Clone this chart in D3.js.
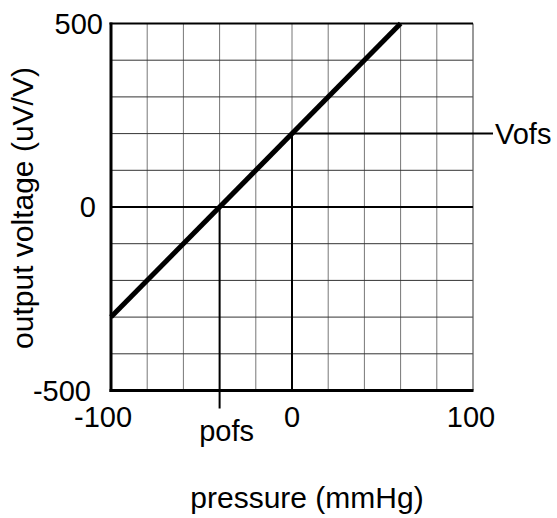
<!DOCTYPE html>
<html>
<head>
<meta charset="utf-8">
<script src="https://cdn.jsdelivr.net/npm/d3@7"></script>
<style>
  body { margin: 0; background: #fff; }
  text { font-family: "Liberation Sans", Arial, sans-serif; fill: #000; }
</style>
</head>
<body>
<svg id="chart" width="557" height="518"></svg>
<script>
// Data
const pressure = [-100, 60];          // mmHg
const voltage = [-300, 500];          // uV/V
const xTicks = [-100, 0, 100];
const yTicks = [-500, 0, 500];
const xGrid = [-80, -60, -40, -20, 0, 20, 40, 60, 80];
const yGrid = [-400, -300, -200, -100, 100, 200, 300, 400];
const pofs = -40;
const vofs = 200;

const svg = d3.select("#chart");
const m = { left: 111, top: 23.5, right: 473, bottom: 390.5 };
const x = d3.scaleLinear().domain([-100, 100]).range([m.left, m.right]);
const y = d3.scaleLinear().domain([-500, 500]).range([m.bottom, m.top]);

// Grid
svg.append("g").selectAll("line").data(xGrid).join("line")
  .attr("x1", d => x(d)).attr("x2", d => x(d))
  .attr("y1", y(500)).attr("y2", y(-500))
  .attr("stroke", "#777").attr("stroke-width", 1);
svg.append("g").selectAll("line").data(yGrid).join("line")
  .attr("x1", x(-100)).attr("x2", x(100))
  .attr("y1", d => y(d)).attr("y2", d => y(d))
  .attr("stroke", "#333").attr("stroke-width", 1);

// Right border (thin)
svg.append("line").attr("x1", x(100)).attr("x2", x(100))
  .attr("y1", y(500)).attr("y2", y(-500))
  .attr("stroke", "#555").attr("stroke-width", 1.2);
// Top border
svg.append("line").attr("x1", x(-100) - 1.5).attr("x2", x(100))
  .attr("y1", y(500)).attr("y2", y(500))
  .attr("stroke", "#000").attr("stroke-width", 2.2);

// Zero line
svg.append("line").attr("x1", x(-100)).attr("x2", x(100))
  .attr("y1", y(0)).attr("y2", y(0))
  .attr("stroke", "#000").attr("stroke-width", 2);

// Vofs line
svg.append("line").attr("x1", x(0)).attr("x2", x(100) + 20)
  .attr("y1", y(vofs)).attr("y2", y(vofs))
  .attr("stroke", "#000").attr("stroke-width", 2);
// x=0 vertical from Vofs to bottom
svg.append("line").attr("x1", x(0)).attr("x2", x(0))
  .attr("y1", y(vofs)).attr("y2", y(-500))
  .attr("stroke", "#000").attr("stroke-width", 2);
// pofs vertical from 0 to below axis
svg.append("line").attr("x1", x(pofs)).attr("x2", x(pofs))
  .attr("y1", y(0)).attr("y2", y(-500) + 18)
  .attr("stroke", "#000").attr("stroke-width", 2);

// Axes borders (thick)
svg.append("line").attr("x1", x(-100)).attr("x2", x(-100))
  .attr("y1", y(500) - 1).attr("y2", y(-500) + 1.5)
  .attr("stroke", "#000").attr("stroke-width", 3);
svg.append("line").attr("x1", x(-100) - 1.5).attr("x2", x(100) + 0.5)
  .attr("y1", y(-500)).attr("y2", y(-500))
  .attr("stroke", "#000").attr("stroke-width", 3);

// Data line
const line = d3.line().x((d, i) => x(pressure[i])).y((d, i) => y(voltage[i]));
svg.append("path").datum(pressure).attr("d", line)
  .attr("fill", "none").attr("stroke", "#000").attr("stroke-width", 5);

// Tick labels
const fs = 29;
const yLabelRight = { "500": 103, "0": 96, "-500": 91 };
svg.append("g").selectAll("text").data(yTicks).join("text")
  .attr("x", d => yLabelRight[d]).attr("y", d => y(d))
  .attr("dy", "0.36em").attr("text-anchor", "end")
  .attr("font-size", fs).text(d => d);
const xLabelShift = { "-100": -8, "0": 0, "100": -2 };
svg.append("g").selectAll("text").data(xTicks).join("text")
  .attr("x", d => x(d) + xLabelShift[d]).attr("y", 427)
  .attr("text-anchor", "middle")
  .attr("font-size", fs).text(d => d);

// Annotations
svg.append("text").attr("x", x(pofs) + 7).attr("y", 441)
  .attr("text-anchor", "middle").attr("font-size", fs).text("pofs");
svg.append("text").attr("x", x(100) + 22).attr("y", y(vofs))
  .attr("dy", "0.36em").attr("font-size", fs).text("Vofs");

// Axis titles
svg.append("text").attr("x", 307).attr("y", 508)
  .attr("text-anchor", "middle").attr("font-size", 30).text("pressure (mmHg)");
svg.append("text")
  .attr("transform", "translate(33,208) rotate(-90)")
  .attr("text-anchor", "middle").attr("font-size", 30).text("output voltage (uV/V)");
</script>
</body>
</html>
